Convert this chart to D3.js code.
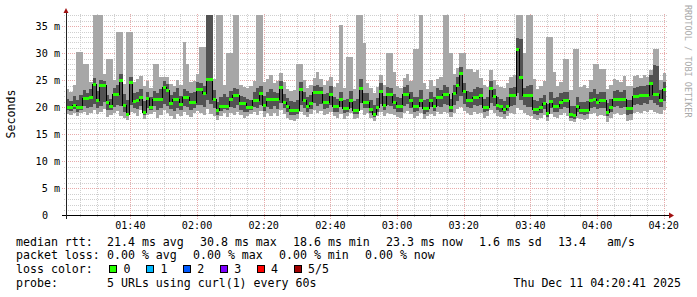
<!DOCTYPE html>
<html>
<head>
<meta charset="utf-8">
<script src="https://cdn.jsdelivr.net/npm/d3@7"></script>
<style>
  body { margin: 0; background: #fff; }
  svg { display: block; }
  text { font-family: "DejaVu Sans Mono", monospace; fill: #000; }
</style>
</head>
<body>
<div id="chart"></div>
<script>
// one sample per minute, 01:20:41 .. 04:20:41 (values in ms)
const medianMs = [
  20.0, 20.0, 20.5, 20.0, 20.0, 21.7, 21.7, 21.9, 24.3, 21.3,
  24.1, 24.1, 21.0, 20.2, 22.5, 22.5, 25.1, 20.5, 18.8, 24.6,
  21.2, 21.3, 21.9, 19.1, 21.7, 20.0, 21.6, 21.6, 21.6, 23.8,
  23.2, 20.7, 21.5, 21.5, 20.6, 21.9, 21.9, 21.0, 21.0, 23.3,
  23.3, 22.6, 25.2, 25.2, 21.5, 19.4, 20.3, 20.3, 20.3, 21.6,
  22.2, 22.2, 20.7, 20.7, 20.0, 20.0, 21.3, 21.3, 22.6, 20.4,
  21.5, 21.5, 21.5, 21.5, 23.8, 21.0, 20.2, 19.5, 19.4, 19.4,
  23.3, 21.4, 20.2, 20.8, 22.8, 22.8, 22.8, 21.0, 21.0, 22.5,
  20.2, 20.2, 21.5, 19.9, 19.9, 21.4, 19.4, 19.4, 23.6, 21.0,
  21.0, 19.6, 18.7, 20.0, 23.0, 20.4, 22.4, 22.4, 21.0, 20.2,
  20.2, 22.5, 22.5, 21.3, 20.2, 20.2, 21.3, 19.9, 19.9, 21.4,
  20.2, 21.9, 21.9, 22.4, 22.4, 20.0, 22.6, 24.1, 26.4, 23.0,
  21.4, 21.4, 21.9, 21.9, 22.3, 20.0, 20.0, 23.6, 22.0, 20.4,
  20.2, 19.6, 20.2, 22.2, 22.2, 30.8, 25.5, 22.2, 22.3, 22.3,
  19.6, 19.6, 20.0, 20.7, 18.9, 21.2, 20.2, 20.2, 21.0, 21.3,
  21.3, 18.7, 18.6, 20.2, 19.4, 19.4, 19.4, 21.4, 21.5, 21.0,
  21.3, 21.3, 19.1, 20.0, 21.5, 21.5, 21.5, 21.5, 19.8, 19.8,
  22.0, 22.0, 22.2, 22.3, 22.3, 24.5, 22.4, 22.4, 21.4, 23.3
];
const lowMs = [
  18.8, 18.6, 19.0, 18.4, 18.9, 19.2, 18.5, 19.0, 19.4, 18.7,
  19.1, 19.6, 18.2, 18.6, 18.9, 19.3, 18.4, 18.0, 17.6, 19.2,
  18.9, 18.3, 19.4, 17.9, 18.5, 18.7, 19.2, 18.1, 18.6, 19.5,
  19.0, 18.4, 17.8, 18.8, 18.3, 19.1, 18.6, 18.2, 18.9, 19.3,
  19.0, 18.5, 19.6, 18.8, 18.3, 17.7, 18.4, 18.9, 18.2, 19.0,
  18.6, 19.2, 18.5, 18.0, 18.4, 18.8, 19.1, 18.6, 19.3, 18.2,
  18.9, 18.4, 19.0, 18.3, 19.4, 18.7, 18.1, 17.6, 17.4, 17.9,
  19.2, 18.6, 18.2, 18.8, 19.4, 18.9, 19.3, 18.5, 18.7, 19.1,
  18.3, 18.0, 18.8, 17.9, 18.4, 18.9, 17.8, 18.1, 19.5, 18.6,
  18.9, 18.0, 17.5, 18.3, 19.2, 18.4, 19.0, 18.8, 18.5, 18.2,
  18.0, 18.9, 19.3, 18.7, 18.1, 18.4, 18.9, 17.9, 18.3, 18.8,
  18.4, 19.1, 18.8, 19.2, 18.9, 18.2, 19.0, 19.6, 20.1, 19.3,
  18.9, 18.6, 19.2, 18.8, 19.0, 18.1, 18.4, 19.4, 18.9, 18.3,
  18.2, 17.9, 18.4, 19.0, 18.8, 19.8, 19.5, 18.9, 18.6, 18.4,
  17.8, 17.6, 18.1, 18.5, 17.4, 18.7, 18.2, 18.0, 18.6, 18.9,
  18.4, 17.5, 17.2, 18.1, 17.8, 17.6, 17.9, 18.8, 18.9, 18.3,
  18.6, 18.4, 17.3, 18.0, 18.7, 18.9, 18.6, 18.8, 17.4, 17.7,
  18.9, 19.2, 19.0, 19.3, 19.1, 19.5, 19.2, 19.0, 18.7, 19.4
];
const low2Ms = [
  19.4, 19.3, 19.7, 19.2, 19.5, 20.2, 19.8, 20.0, 20.6, 19.9,
  20.3, 21.0, 19.4, 19.5, 20.1, 20.4, 20.2, 19.2, 18.3, 20.5,
  19.9, 19.6, 20.3, 18.6, 19.8, 19.4, 20.2, 19.5, 19.9, 20.6,
  20.2, 19.6, 19.3, 19.9, 19.4, 20.3, 20.0, 19.5, 19.9, 20.4,
  20.5, 20.1, 21.3, 20.6, 19.8, 18.6, 19.3, 19.6, 19.4, 20.1,
  19.9, 20.4, 19.5, 19.2, 19.2, 19.5, 20.0, 19.8, 20.5, 19.3,
  20.0, 19.7, 20.2, 19.6, 20.8, 19.9, 19.2, 18.6, 18.5, 18.7,
  20.4, 19.9, 19.1, 19.7, 20.7, 20.3, 20.6, 19.6, 19.8, 20.4,
  19.2, 19.1, 20.0, 18.9, 19.1, 19.9, 18.7, 18.8, 20.8, 19.8,
  19.9, 18.9, 18.2, 19.1, 20.6, 19.4, 20.4, 20.2, 19.7, 19.2,
  19.1, 20.2, 20.6, 19.9, 19.2, 19.3, 20.1, 18.8, 19.1, 20.0,
  19.3, 20.3, 20.1, 20.6, 20.4, 19.1, 20.5, 21.2, 22.0, 20.6,
  20.0, 19.9, 20.4, 20.2, 20.5, 19.1, 19.3, 20.8, 20.2, 19.4,
  19.2, 18.8, 19.3, 20.3, 20.4, 22.6, 21.4, 20.4, 20.1, 20.0,
  18.8, 18.6, 19.0, 19.6, 18.2, 19.8, 19.2, 19.1, 19.7, 20.0,
  19.9, 18.1, 17.9, 19.1, 18.7, 18.5, 18.7, 19.9, 20.1, 19.6,
  19.9, 19.8, 18.3, 19.1, 20.0, 20.2, 19.9, 20.1, 18.6, 18.8,
  20.4, 20.6, 20.5, 20.7, 20.6, 21.4, 20.8, 20.5, 20.1, 21.2
];
const high2Ms = [
  21.5, 21.2, 22.0, 21.4, 22.3, 23.1, 22.6, 23.4, 25.4, 23.0,
  25.0, 24.8, 22.3, 21.6, 23.6, 24.1, 26.2, 22.4, 21.3, 25.6,
  22.6, 22.8, 23.4, 21.2, 22.9, 21.8, 23.0, 22.7, 23.4, 24.8,
  24.3, 22.2, 22.8, 23.5, 22.1, 23.4, 23.0, 22.6, 22.8, 24.6,
  24.5, 24.0, 40.0, 38.0, 23.1, 21.0, 21.9, 22.4, 21.8, 23.0,
  23.6, 23.4, 22.1, 21.9, 21.6, 21.4, 22.8, 23.5, 24.0, 22.1,
  22.9, 23.4, 22.8, 22.6, 24.9, 22.4, 21.7, 21.1, 20.9, 21.3,
  24.6, 22.9, 21.8, 22.3, 23.9, 24.2, 23.8, 22.5, 22.7, 23.9,
  21.8, 21.6, 22.9, 21.4, 21.5, 23.0, 21.2, 21.6, 25.2, 22.7,
  22.6, 21.3, 20.4, 21.7, 24.5, 22.1, 23.8, 23.6, 22.5, 21.8,
  21.7, 23.8, 24.1, 22.8, 21.9, 21.8, 23.1, 21.4, 21.6, 22.9,
  21.8, 23.5, 23.1, 24.2, 23.7, 21.6, 24.1, 25.6, 27.4, 24.5,
  23.0, 22.8, 23.4, 23.7, 23.6, 21.5, 21.9, 24.8, 23.3, 21.9,
  21.6, 21.2, 21.8, 23.5, 23.8, 32.8, 32.6, 23.6, 23.9, 24.1,
  21.3, 21.1, 21.7, 22.3, 20.6, 22.8, 21.7, 21.9, 22.6, 22.9,
  22.8, 20.3, 20.2, 21.8, 21.0, 20.9, 21.1, 22.9, 23.3, 22.4,
  22.8, 22.9, 20.8, 21.6, 23.0, 23.1, 22.8, 23.2, 21.3, 21.4,
  23.6, 23.8, 24.0, 23.9, 24.2, 26.0, 27.8, 27.6, 23.1, 24.6
];
const highMs = [
  23.4, 22.8, 24.1, 30.2, 30.2, 28.0, 28.0, 24.6, 40.0, 40.0,
  40.0, 26.2, 29.0, 29.0, 25.1, 34.0, 34.0, 24.3, 34.0, 34.0,
  24.6, 25.3, 25.8, 23.9, 24.8, 23.6, 28.0, 28.0, 25.6, 25.6,
  25.6, 24.3, 24.0, 25.1, 24.2, 32.0, 28.0, 24.6, 24.9, 26.1,
  31.2, 31.2, 40.0, 40.0, 25.2, 40.0, 40.0, 24.1, 30.0, 30.0,
  40.0, 40.0, 24.2, 23.8, 23.5, 23.9, 24.8, 40.0, 40.0, 24.6,
  25.3, 26.0, 24.4, 24.9, 26.3, 24.6, 23.4, 23.0, 23.2, 28.0,
  28.0, 25.1, 23.6, 24.2, 25.4, 26.6, 25.2, 24.1, 24.8, 25.6,
  23.8, 24.5, 35.2, 23.6, 29.3, 29.3, 23.4, 40.0, 40.0, 31.9,
  24.4, 23.5, 22.6, 23.8, 26.0, 24.1, 30.0, 30.0, 26.5, 23.9,
  23.6, 25.4, 26.2, 24.9, 30.7, 30.7, 40.0, 24.5, 23.4, 25.1,
  24.0, 25.3, 25.6, 40.0, 40.0, 30.0, 26.1, 27.2, 30.0, 30.0,
  27.0, 27.0, 26.6, 26.8, 25.4, 24.1, 23.8, 26.9, 25.1, 24.2,
  23.8, 23.5, 24.4, 25.6, 25.9, 40.0, 40.0, 30.0, 40.0, 40.0,
  25.2, 23.3, 24.0, 24.8, 33.0, 33.0, 26.5, 24.0, 24.6, 29.0,
  29.0, 23.1, 30.7, 30.7, 23.8, 24.2, 23.5, 25.0, 28.0, 28.0,
  27.0, 27.0, 23.4, 24.1, 25.3, 25.0, 24.7, 25.8, 24.0, 23.9,
  25.7, 26.0, 25.4, 25.9, 25.5, 26.8, 30.7, 30.7, 25.0, 26.3
];

const timeTickLabels = ['01:40', '02:00', '02:20', '02:40', '03:00', '03:20', '03:40', '04:00', '04:20'];
const yTickValues = [0, 5, 10, 15, 20, 25, 30, 35];
const yTickLabels = ['0', '5 m', '10 m', '15 m', '20 m', '25 m', '30 m', '35 m'];

const rttStats = ['21.4 ms avg', '30.8 ms max', '18.6 ms min', '23.3 ms now', '1.6 ms sd', '13.4', 'am/s'];
const lossStats = ['0.00 % avg', '0.00 % max', '0.00 % min', '0.00 % now'];
const lossLabels = ['0', '1', '2', '3', '4', '5/5'];
const lossColors = ['#26ff00', '#00b8ff', '#0059ff', '#7e00ff', '#ff0000', '#a00000'];
const probeText = '5 URLs using curl(1) every 60s';
const stampText = 'Thu Dec 11 04:20:41 2025';

const W = 697, H = 297;
const start = new Date(2025, 11, 11, 1, 20, 41);
const end = new Date(2025, 11, 11, 4, 20, 41);

const x = d3.scaleTime().domain([start, end]).range([66, 666]);
const y = d3.scaleLinear().domain([0, 37.2]).range([215.4, 14.2]);

const svg = d3.select('#chart').append('svg')
  .attr('width', W)
  .attr('height', H);

svg.append('rect').attr('width', W).attr('height', H).attr('fill', '#fff');

// grid (under the smoke)
const grid = svg.append('g').attr('shape-rendering', 'crispEdges');
d3.range(1, 38).forEach(function (v) {
  const major = v % 5 === 0;
  const yy = Math.round(y(v)) + 0.5;
  grid.append('line')
    .attr('x1', major ? 62 : 64).attr('x2', 667)
    .attr('y1', yy).attr('y2', yy)
    .attr('stroke', major ? '#e8aaaa' : '#cfcfcf')
    .attr('stroke-dasharray', '1,1');
});
d3.timeMinute.every(5).range(start, end).forEach(function (t) {
  const major = t.getMinutes() % 20 === 0;
  const xx = Math.round(x(t)) + 0.5;
  grid.append('line')
    .attr('x1', xx).attr('x2', xx)
    .attr('y1', major ? 219 : 217).attr('y2', 14)
    .attr('stroke', major ? '#e8aaaa' : '#cfcfcf')
    .attr('stroke-dasharray', '1,1');
});

// per-minute samples, plus a closing point for the step shape
const pts = medianMs.map(function (m, i) {
  return {
    t: d3.timeMinute.offset(start, i),
    t2: d3.timeMinute.offset(start, i + 1),
    lo: lowMs[i], lo2: low2Ms[i], med: m, hi2: high2Ms[i], hi: highMs[i]
  };
});
const stepPts = pts.concat([Object.assign({}, pts[pts.length - 1], { t: end })]);

svg.append('clipPath').attr('id', 'plot')
  .append('rect').attr('x', 66).attr('y', 15).attr('width', 601).attr('height', 201);

const plot = svg.append('g').attr('clip-path', 'url(#plot)');

const band = function (lo, hi) {
  return d3.area()
    .curve(d3.curveStepAfter)
    .x(function (d) { return x(d.t); })
    .y0(function (d) { return y(d[lo]); })
    .y1(function (d) { return y(d[hi]); });
};

plot.append('path').datum(stepPts)
  .attr('d', band('lo', 'hi'))
  .attr('fill', '#a7a7a7')
  .attr('shape-rendering', 'crispEdges');

plot.append('path').datum(stepPts)
  .attr('d', band('lo2', 'hi2'))
  .attr('fill', '#525252')
  .attr('shape-rendering', 'crispEdges');

// median: black step line with loss-coloured segments on top
plot.append('path').datum(stepPts)
  .attr('d', d3.line().curve(d3.curveStepAfter)
    .x(function (d) { return x(d.t); })
    .y(function (d) { return Math.round(y(d.med)) + 0.5; }))
  .attr('fill', 'none')
  .attr('stroke', '#000')
  .attr('stroke-width', 1)
  .attr('shape-rendering', 'crispEdges');

plot.selectAll('rect.med').data(pts).enter().append('rect')
  .attr('class', 'med')
  .attr('x', function (d) { return x(d.t); })
  .attr('width', function (d) { return x(d.t2) - x(d.t); })
  .attr('y', function (d) { return Math.round(y(d.med)) - 1; })
  .attr('height', 3)
  .attr('fill', lossColors[0])
  .attr('shape-rendering', 'crispEdges');

// axes
const axes = svg.append('g').attr('shape-rendering', 'crispEdges');
axes.append('line')
  .attr('x1', 62).attr('x2', 670).attr('y1', 215.5).attr('y2', 215.5)
  .attr('stroke', '#000');
axes.append('line')
  .attr('x1', 66).attr('x2', 66).attr('y1', 219).attr('y2', 11)
  .attr('stroke', '#222');
svg.append('path').attr('d', 'M669,212.5L674,215.5L669,218.5Z').attr('fill', '#a01010');
svg.append('path').attr('d', 'M63.5,13L66,8L68.5,13Z').attr('fill', '#a01010');

// tick labels
svg.selectAll('text.ytick').data(yTickValues).enter().append('text')
  .attr('class', 'ytick')
  .attr('x', function (d) { return d === 0 ? 48 : 60; })
  .attr('y', function (d) { return y(d) + 3.6; })
  .attr('text-anchor', 'end')
  .style('font-size', '10.15px')
  .text(function (d, i) { return yTickLabels[i]; });

const parseTick = function (s) {
  const p = s.split(':');
  return new Date(2025, 11, 11, +p[0], +p[1], 0);
};
svg.selectAll('text.xtick').data(timeTickLabels).enter().append('text')
  .attr('class', 'xtick')
  .attr('x', function (d) { return x(parseTick(d)); })
  .attr('y', 228.5)
  .attr('text-anchor', 'middle')
  .style('font-size', '10.15px')
  .text(function (d) { return d; });

svg.append('text')
  .attr('transform', 'translate(14.5,114) rotate(-90)')
  .attr('text-anchor', 'middle')
  .style('font-size', '11.6px')
  .text('Seconds');

svg.append('text')
  .attr('transform', 'translate(684.5,5) rotate(90)')
  .style('font-size', '8.5px')
  .style('fill', '#a9a9a9')
  .text('RRDTOOL / TOBI OETIKER');

// legend
const lineY = [245.5, 259.4, 273.2, 287.1];
const leg = svg.append('g').style('font-size', '11.6px');
const put = function (txt, xx, yy, anchor) {
  leg.append('text').attr('x', xx).attr('y', yy)
    .attr('text-anchor', anchor || 'start')
    .attr('xml:space', 'preserve')
    .text(txt);
};

put('median rtt:', 16, lineY[0]);
[107, 200, 293, 386, 479, 558, 607].forEach(function (xx, i) { put(rttStats[i], xx, lineY[0]); });

put('packet loss:', 16, lineY[1]);
[107, 193, 279, 365].forEach(function (xx, i) { put(lossStats[i], xx, lineY[1]); });

put('loss color:', 16, lineY[2]);
lossLabels.forEach(function (lab, i) {
  const bx = 109 + i * 36.9;
  leg.append('rect')
    .attr('x', bx + 0.5).attr('y', 265.5)
    .attr('width', 7).attr('height', 7)
    .attr('fill', lossColors[i])
    .attr('stroke', '#000')
    .attr('shape-rendering', 'crispEdges');
  put(lab, bx + 14.5, lineY[2]);
});

put('probe:', 16, lineY[3]);
put(probeText, 107, lineY[3]);
put(stampText, 681, lineY[3], 'end');
</script>
</body>
</html>
